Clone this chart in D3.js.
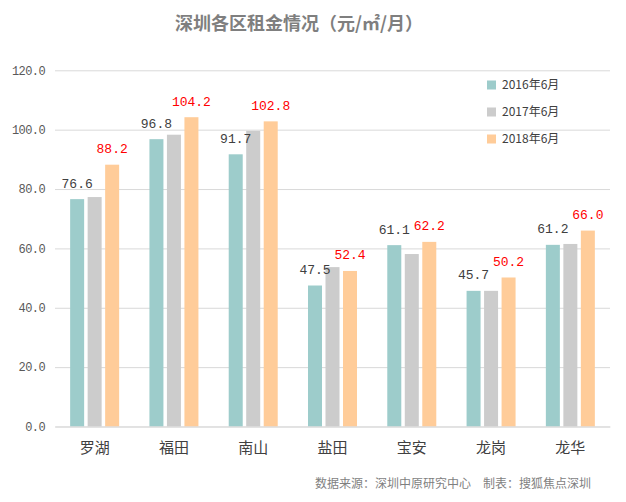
<!DOCTYPE html>
<html>
<head>
<meta charset="utf-8">
<script src="https://cdn.jsdelivr.net/npm/d3@7"></script>
<style>
html,body{margin:0;padding:0;background:#fff;}
svg{display:block;}
</style>
</head>
<body>
<svg id="chart" width="626" height="502"></svg>
<script>
const categories = ["罗湖","福田","南山","盐田","宝安","龙岗","龙华"];
const seriesNames = ["2016年6月","2017年6月","2018年6月"];
const values2016 = [76.6, 96.8, 91.7, 47.5, 61.1, 45.7, 61.2];
const values2017 = [77.3, 98.3, 99.6, 53.7, 58.1, 45.7, 61.5];
const values2018 = [88.2, 104.2, 102.8, 52.4, 62.2, 50.2, 66.0];
const yTicks = [0, 20, 40, 60, 80, 100, 120];
const colors = ["#9dcccb", "#cccccc", "#ffcc99"];
const labelColors = ["#404040", null, "#ff0000"];
const titleText = "深圳各区租金情况（元/㎡/月）";
const sourceText = "数据来源：深圳中原研究中心　制表：搜狐焦点深圳";

const allSeries = [values2016, values2017, values2018];
const svg = d3.select("#chart");
const cjk = "'Noto Sans CJK SC','Noto Sans',sans-serif";
const mono = "'Liberation Mono','DejaVu Sans Mono',monospace";

const plotLeft = 55, plotRight = 610, plotTop = 70.3, plotBottom = 426.5;
const y = d3.scaleLinear().domain([0, 120]).range([plotBottom, plotTop]);
const x0 = d3.scaleBand().domain(categories).range([plotLeft, plotRight]);
const groupW = 49;
const x1 = d3.scaleBand().domain(d3.range(3)).range([0, groupW]).paddingInner(0.2);
const groupOffset = (x0.bandwidth() - groupW) / 2;

// gridlines
const yAxis = d3.axisLeft(y).tickValues(yTicks).tickSize(-(plotRight - plotLeft)).tickFormat(d => d.toFixed(1)).tickPadding(10);
const gy = svg.append("g").attr("transform", `translate(${plotLeft},0)`).call(yAxis);
gy.select(".domain").remove();
gy.selectAll(".tick line").attr("stroke", "#d9d9d9").attr("stroke-width", 1);
gy.selectAll(".tick text").attr("fill", "#595959").style("font-family", mono).style("font-size", "12px").style("letter-spacing", "-0.6px");

// bars
allSeries.forEach((vals, si) => {
  svg.append("g").selectAll("rect").data(vals).join("rect")
    .attr("x", (d, i) => x0(categories[i]) + groupOffset + x1(si))
    .attr("y", d => y(d))
    .attr("width", x1.bandwidth())
    .attr("height", d => y(0) - y(d))
    .attr("fill", colors[si]);
});
// value labels (drawn after all bars)
allSeries.forEach((vals, si) => {
  if (labelColors[si]) {
    svg.append("g").selectAll("text").data(vals).join("text")
      .attr("x", (d, i) => x0(categories[i]) + groupOffset + x1(si) + x1.bandwidth() / 2)
      .attr("y", d => y(d) - 11.5)
      .attr("text-anchor", "middle")
      .attr("fill", labelColors[si])
      .style("font-family", mono)
      .style("font-size", "13px")
      .text(d => d.toFixed(1));
  }
});

// x axis
const xAxis = d3.axisBottom(x0).tickSize(0).tickPadding(16);
const gx = svg.append("g").attr("transform", `translate(0,${plotBottom})`).call(xAxis);
gx.select(".domain").attr("stroke", "#d9d9d9");
gx.selectAll(".tick text").attr("fill", "#404040").style("font-family", cjk).style("font-size", "15px");

// legend
const legend = svg.append("g");
seriesNames.forEach((name, i) => {
  const cy = 85 + i * 27;
  legend.append("rect").attr("x", 487).attr("y", cy - 4.5).attr("width", 9).attr("height", 9).attr("fill", colors[i]);
  legend.append("text").attr("x", 502).attr("y", cy).attr("dy", "0.35em")
    .attr("fill", "#404040").style("font-family", cjk).style("font-size", "12px").text(name);
});

// title
svg.append("text").attr("x", 299).attr("y", 30).attr("text-anchor", "middle")
  .attr("fill", "#7f7f7f").style("font-family", cjk).style("font-size", "18px").style("font-weight", "bold")
  .text(titleText);

// source
svg.append("text").attr("x", 315).attr("y", 488)
  .attr("fill", "#7f7f7f").style("font-family", cjk).style("font-size", "12px")
  .text(sourceText);
</script>
</body>
</html>
